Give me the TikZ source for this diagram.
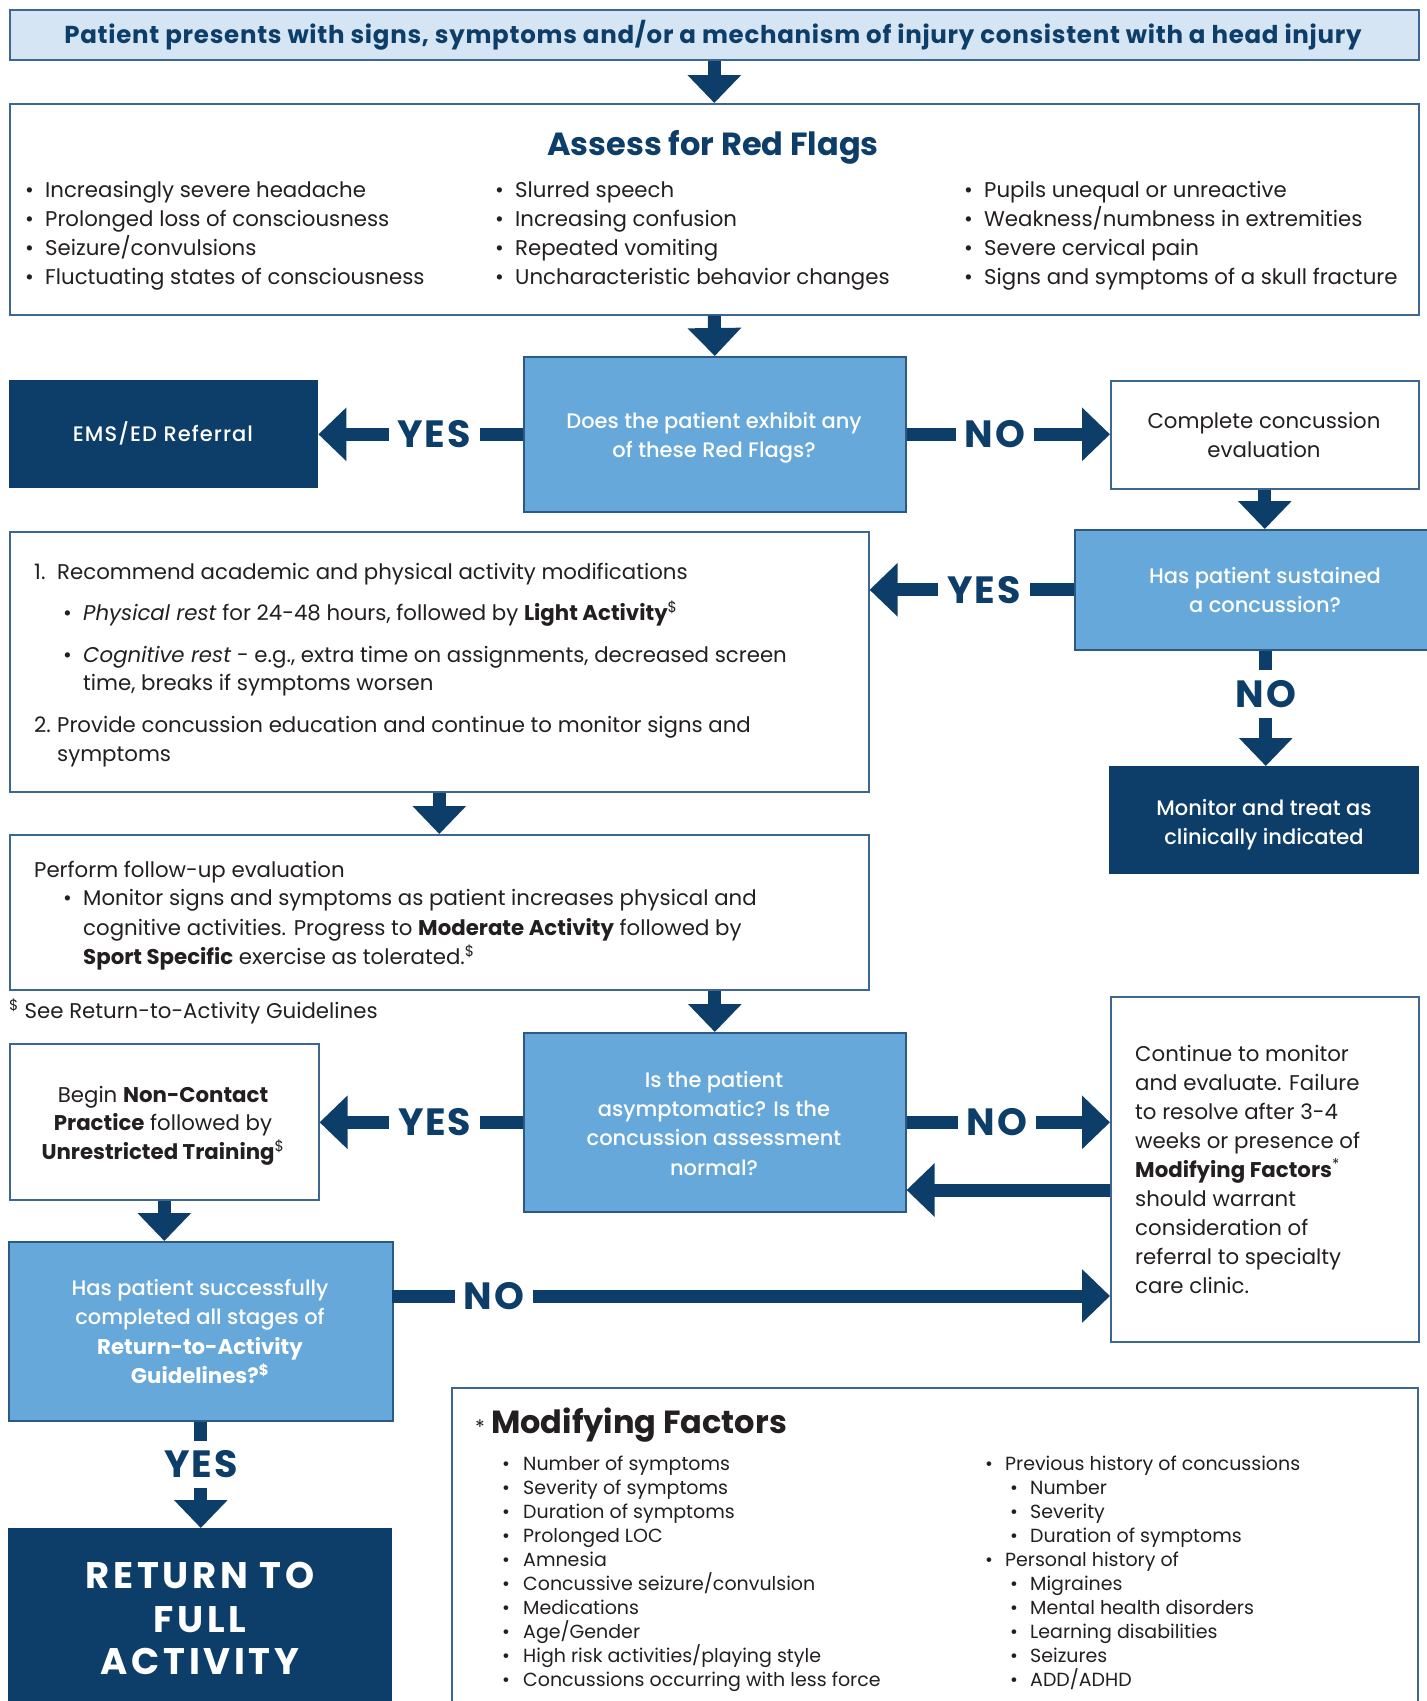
\documentclass[tikz,border=0pt]{standalone}
\usepackage{fontspec}
\setmainfont{Poppins}
\IfFontExistsTF{Poppins Medium}{\newfontfamily\medfont{Poppins Medium}}{\newfontfamily\medfont{Poppins}[FakeBold=0.4]}
\usetikzlibrary{arrows.meta}
\definecolor{navy}{HTML}{0D3E69}
\definecolor{midblue}{HTML}{67A8DA}
\definecolor{pale}{HTML}{D5E5F4}
\definecolor{edge}{HTML}{3D6690}
\definecolor{qedge}{HTML}{2B5A86}
\definecolor{ink}{HTML}{231F20}
\newcommand\myfs[2]{\fontsize{#1}{#2}\selectfont}
\newcommand\mybul{\makebox[20pt][l]{\textbullet}}
\newcommand\mybuls{\makebox[21pt][l]{\textbullet}}
\newcommand\dol{\textsuperscript{\$}}
\begin{document}
\begin{tikzpicture}[x=1pt,y=-1pt,
 every node/.style={inner sep=0pt},
 wbox/.style={draw=edge, line width=1.6pt, fill=white, anchor=north west},
 pbox/.style={draw=edge, line width=1.6pt, fill=pale, anchor=north west},
 qbox/.style={draw=qedge, line width=1.6pt, fill=midblue, anchor=north west},
 nbox/.style={fill=navy, draw=none, anchor=north west},
 conn/.style={draw=navy, line width=13pt, -{Triangle[width=52pt,length=28pt]}},
 lab/.style={fill=white, text=navy, font=\myfs{38}{38}\bfseries\addfontfeatures{LetterSpace=5}, inner xsep=9pt, inner ysep=10pt},
 tl/.style={anchor=base west, text=ink, font=\myfs{21.3}{24}},
 tc/.style={anchor=base, text=ink, font=\myfs{21.3}{24}},
 wc/.style={anchor=base, text=white, font=\medfont\myfs{21}{24}},
 wcb/.style={anchor=base, text=white, font=\myfs{21.3}{24}\bfseries},
 ml/.style={anchor=base west, text=ink, font=\myfs{19}{22}},
 bigw/.style={anchor=base, text=white, font=\myfs{37}{40}\bfseries\addfontfeatures{LetterSpace=10}},
]
\useasboundingbox (0,0) rectangle (1427,1701);
\fill[white] (0,0) rectangle (1427,1701);
\clip (0,0) rectangle (1427,1701);

% ---------- boxes ----------
\node[pbox, minimum width=1409pt, minimum height=50pt] (banner) at (9,9) {};
\node[wbox, minimum width=1409pt, minimum height=211pt] (flags) at (9,103) {};
\node[qbox, minimum width=382pt, minimum height=155pt] (dec1) at (523,356) {};
\node[nbox, minimum width=309pt, minimum height=108pt] (ems) at (9,380) {};
\node[wbox, minimum width=308pt, minimum height=108pt] (complete) at (1110,380) {};
\node[qbox, minimum width=382pt, minimum height=120pt] (dec2) at (1074,529) {};
\node[wbox, minimum width=859pt, minimum height=260pt] (box3) at (9,531) {};
\node[nbox, minimum width=310pt, minimum height=108pt] (monitor) at (1109,766) {};
\node[wbox, minimum width=859pt, minimum height=155pt] (box4) at (9,834) {};
\node[qbox, minimum width=382pt, minimum height=179pt] (dec3) at (523,1032) {};
\node[wbox, minimum width=309pt, minimum height=156pt] (begin) at (9,1043) {};
\node[wbox, minimum width=308pt, minimum height=345pt] (cont) at (1110,996) {};
\node[qbox, minimum width=384pt, minimum height=179pt] (hs) at (8,1241) {};
\node[nbox, minimum width=384pt, minimum height=200pt] (ret) at (8,1528) {};
\node[wbox, minimum width=966pt, minimum height=350pt] (mod) at (451,1387) {};

% ---------- connectors ----------
\coordinate (cback) at (1110,1190);
\coordinate (hsno) at (392,1296);
\draw[conn] (banner.south) -- (flags.north);
\draw[conn] (flags.south) -- (dec1.north);
\draw[conn] (dec1.west) -- node[lab, pos=.434] (y1) {YES} (dec1.west -| ems.east);
\draw[conn] (dec1.east) -- node[lab, pos=.434] (n1) {NO} (dec1.east -| complete.west);
\draw[conn] (complete.south) -- (complete.south |- dec2.north);
\draw[conn] (dec2.west) -- node[lab, pos=.44] (y2) {YES} (dec2.west -| box3.east);
\draw[conn] (dec2.south) -- node[lab, pos=.376] (n2) {NO} (dec2.south |- monitor.north);
\draw[conn] (box3.south) -- (box4.north);
\draw[conn] (dec3.north |- box4.south) -- (dec3.north);
\draw[conn] (dec3.west) -- node[lab, pos=.434] (y3) {YES} (dec3.west -| begin.east);
\draw[conn] (dec3.east) -- node[lab, pos=.444] (n3) {NO} (dec3.east -| cont.west);
\draw[conn] (cback) -- (cback -| dec3.east);
\draw[conn] (begin.south) -- (begin.south |- hs.north);
\draw[conn] (hsno) -- node[lab, pos=.142] (n4) {NO} (hsno -| cont.west);
\draw[conn] (hs.south) -- node[lab, pos=.40] (y4) {YES} (hs.south |- ret.north);

% ---------- banner ----------
\node[anchor=base, text=navy, font=\myfs{24.5}{26}\bfseries\addfontfeatures{LetterSpace=3}] (bantxt) at (713,43)
  {Patient presents with signs, symptoms and/or a mechanism of injury consistent with a head injury};

% ---------- red flags ----------
\node[anchor=base, text=navy, font=\myfs{32}{32}\bfseries] (flagtitle) at (713,155) {Assess for Red Flags};
\foreach \t [count=\i] in {Increasingly severe headache, Prolonged loss of consciousness, Seizure/convulsions, Fluctuating states of consciousness}
  \node[tl] (fa\i) at (25,168+29*\i) {\mybul\t};
\foreach \t [count=\i] in {Slurred speech, Increasing confusion, Repeated vomiting, Uncharacteristic behavior changes}
  \node[tl] (fb\i) at (495,168+29*\i) {\mybul\t};
\foreach \t [count=\i] in {Pupils unequal or unreactive, Weakness/numbness in extremities, Severe cervical pain, Signs and symptoms of a skull fracture}
  \node[tl] (fc\i) at (964,168+29*\i) {\mybul\t};

% ---------- first decision row ----------
\node[wc] (d1a) at (714,428) {Does the patient exhibit any};
\node[wc] (d1b) at (714,457) {of these Red Flags?};
\node[wc, font=\medfont\myfs{21}{24}\addfontfeatures{LetterSpace=5}] (emst) at (163,441) {EMS/ED Referral};
\node[tc] (ca) at (1264,428) {Complete concussion};
\node[tc] (cb) at (1264,457) {evaluation};
\node[wc] (d2a) at (1265,583) {Has patient sustained};
\node[wc] (d2b) at (1265,612) {a concussion?};
\node[wc] (mona) at (1264,815) {Monitor and treat as};
\node[wc] (monb) at (1264,844) {clinically indicated};

% ---------- box 3 ----------
\node[tl] (b3n1) at (34,579) {1.};
\node[tl] (b3l1) at (57,579) {Recommend academic and physical activity modifications};
\node[tl] (b3l2) at (63,620) {\mybul\textit{Physical rest} for 24-48 hours, followed by \textbf{Light Activity}\dol};
\node[tl] (b3l3) at (63,662) {\mybul\textit{Cognitive rest} - e.g., extra time on assignments, decreased screen};
\node[tl] (b3l4) at (83,690) {time, breaks if symptoms worsen};
\node[tl] (b3n2) at (34,732) {2.};
\node[tl] (b3l5) at (57,732) {Provide concussion education and continue to monitor signs and};
\node[tl] (b3l6) at (57,761) {symptoms};

% ---------- box 4 ----------
\node[tl] (b4l1) at (34,877) {Perform follow-up evaluation};
\node[tl] (b4l2) at (63,905) {\mybul Monitor signs and symptoms as patient increases physical and};
\node[tl] (b4l3) at (83,935) {cognitive activities. Progress to \textbf{Moderate Activity} followed by};
\node[tl] (b4l4) at (83,964) {\textbf{Sport Specific} exercise as tolerated.\dol};
\node[tl] (foot) at (9,1018) {\dol\ See Return-to-Activity Guidelines};

% ---------- second decision row ----------
\node[wc] (d3a) at (714,1087) {Is the patient};
\node[wc] (d3b) at (714,1116) {asymptomatic? Is the};
\node[wc] (d3c) at (714,1145) {concussion assessment};
\node[wc] (d3d) at (714,1175) {normal?};
\node[tc] (bga) at (163,1102) {Begin \textbf{Non-Contact}};
\node[tc] (bgb) at (163,1130) {\textbf{Practice} followed by};
\node[tc] (bgc) at (163,1159) {\textbf{Unrestricted Training}\dol};
\foreach \t [count=\i] in {{Continue to monitor},{and evaluate. Failure},{to resolve after 3-4},{weeks or presence of},{\textbf{Modifying Factors}\textsuperscript{*}},{should warrant},{consideration of},{referral to specialty},{care clinic.}}
  \node[tl] (ct\i) at (1135,1061+29.1*\i-29.1) {\t};

% ---------- has successfully ----------
\node[wc] (hsa) at (200,1295) {Has patient successfully};
\node[wc] (hsb) at (200,1324) {completed all stages of};
\node[wcb] (hsc) at (200,1354) {Return-to-Activity};
\node[wcb] (hsd) at (200,1383) {Guidelines?\dol};

% ---------- return ----------
\node[bigw] (ra) at (200,1588) {RETURN TO};
\node[bigw] (rb) at (200,1632) {FULL};
\node[bigw] (rc) at (200,1674) {ACTIVITY};

% ---------- modifying factors ----------
\node[anchor=base west, text=ink, font=\myfs{20}{20}] (mast) at (475,1434) {*};
\node[anchor=base west, text=ink, font=\myfs{32}{32}\bfseries] (mtitle) at (491,1433) {Modifying Factors};
\foreach \t [count=\i] in {Number of symptoms, Severity of symptoms, Duration of symptoms, Prolonged LOC, Amnesia, Concussive seizure/convulsion, Medications, Age/Gender, High risk activities/playing style, Concussions occurring with less force}
  \node[ml] (ma\i) at (502,1446+24*\i) {\mybuls\t};
\node[ml] (mb1) at (985,1470) {\mybul Previous history of concussions};
\node[ml] (mb2) at (1010,1494) {\mybul Number};
\node[ml] (mb3) at (1010,1518) {\mybul Severity};
\node[ml] (mb4) at (1010,1542) {\mybul Duration of symptoms};
\node[ml] (mb5) at (985,1566) {\mybul Personal history of};
\node[ml] (mb6) at (1010,1590) {\mybul Migraines};
\node[ml] (mb7) at (1010,1614) {\mybul Mental health disorders};
\node[ml] (mb8) at (1010,1638) {\mybul Learning disabilities};
\node[ml] (mb9) at (1010,1662) {\mybul Seizures};
\node[ml] (mb10) at (1010,1686) {\mybul ADD/ADHD};
\end{tikzpicture}
\end{document}
